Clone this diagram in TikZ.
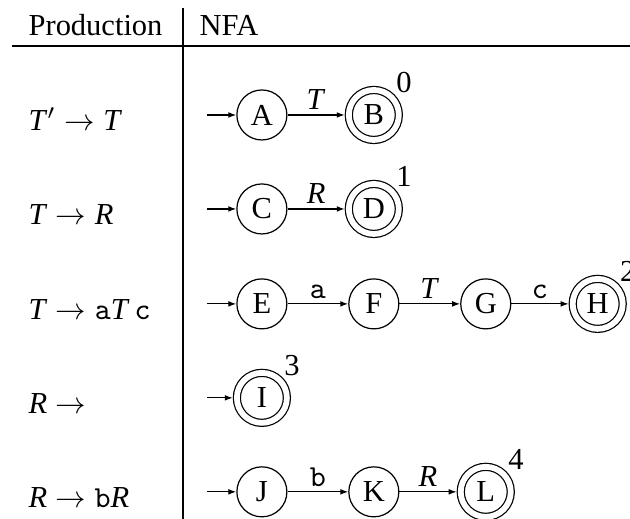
\documentclass[tikz,border=0pt]{standalone}
\usepackage{fontspec}
\setmainfont{Liberation Serif}
\usetikzlibrary{positioning}
\usetikzlibrary{arrows.meta}

\begin{document}
\begin{tikzpicture}[
	node distance=1.29cm, on grid,
	>={Latex[length=2.6pt,width=1.9pt]},
	st/.style={draw,circle,minimum size=16.4pt,inner sep=0},
	acc/.style={st,double,double distance=1.9pt,outer sep=1.35pt},
	num/.style={label={[inner sep=0pt,label distance=0.6pt]45:#1}},
	lab/.style={above,inner sep=1.6pt},
	prod/.style={anchor=base west,inner sep=0}
]
	\useasboundingbox (0,0) rectangle (7.26,-5.98);

	% table
	\draw (2.108,-0.092) -- (2.108,-5.98);
	\draw (0.138,-0.53) -- (7.26,-0.53);
	\node[prod] (hp) at (0.323,-0.41) {Production};
	\node[prod] (hn) at (2.293,-0.41) {NFA};

	% productions
	\node[prod] (p1) at (0.323,-1.505) {\textit{T}$'\rightarrow{}$\textit{T}};
	\node[prod] (p2) at (0.323,-2.588) {\textit{T}${}\rightarrow{}$\textit{R}};
	\node[prod] (p3) at (0.323,-3.682) {\textit{T}${}\rightarrow{}$\texttt{a}\textit{T}\,\texttt{c}};
	\node[prod] (p4) at (0.323,-4.765) {\textit{R}${}\rightarrow{}$};
	\node[prod] (p5) at (0.323,-5.848) {\textit{R}${}\rightarrow{}$\texttt{b}\textit{R}};

	% T' -> T
	\node[st] (A) at (3.018,-1.325) {A};
	\node[acc,num=0,right=of A] (B) {B};
	\coordinate[left=0.634cm of A] (a0);
	\draw[->] (a0) -- (A);
	\draw[->] (A) -- node[lab]{\textit{T}} (B);

	% T -> R
	\node[st] (C) at (3.018,-2.408) {C};
	\node[acc,num=1,right=of C] (D) {D};
	\coordinate[left=0.634cm of C] (c0);
	\draw[->] (c0) -- (C);
	\draw[->] (C) -- node[lab]{\textit{R}} (D);

	% T -> aTc
	\node[st] (E) at (3.018,-3.502) {E};
	\node[st,right=of E] (F) {F};
	\node[st,right=of F] (G) {G};
	\node[acc,num=2,right=of G] (H) {H};
	\coordinate[left=0.634cm of E] (e0);
	\draw[->] (e0) -- (E);
	\draw[->] (E) -- node[lab]{\texttt{a}} (F);
	\draw[->] (F) -- node[lab]{\textit{T}} (G);
	\draw[->] (G) -- node[lab]{\texttt{c}} (H);

	% R ->
	\node[acc,num=3] (I) at (3.018,-4.585) {I};
	\coordinate[left=0.634cm of I] (i0);
	\draw[->] (i0) -- (I);

	% R -> bR
	\node[st] (J) at (3.018,-5.668) {J};
	\node[st,right=of J] (K) {K};
	\node[acc,num=4,right=of K] (L) {L};
	\coordinate[left=0.634cm of J] (j0);
	\draw[->] (j0) -- (J);
	\draw[->] (J) -- node[lab]{\texttt{b}} (K);
	\draw[->] (K) -- node[lab]{\textit{R}} (L);
\end{tikzpicture}
\end{document}
